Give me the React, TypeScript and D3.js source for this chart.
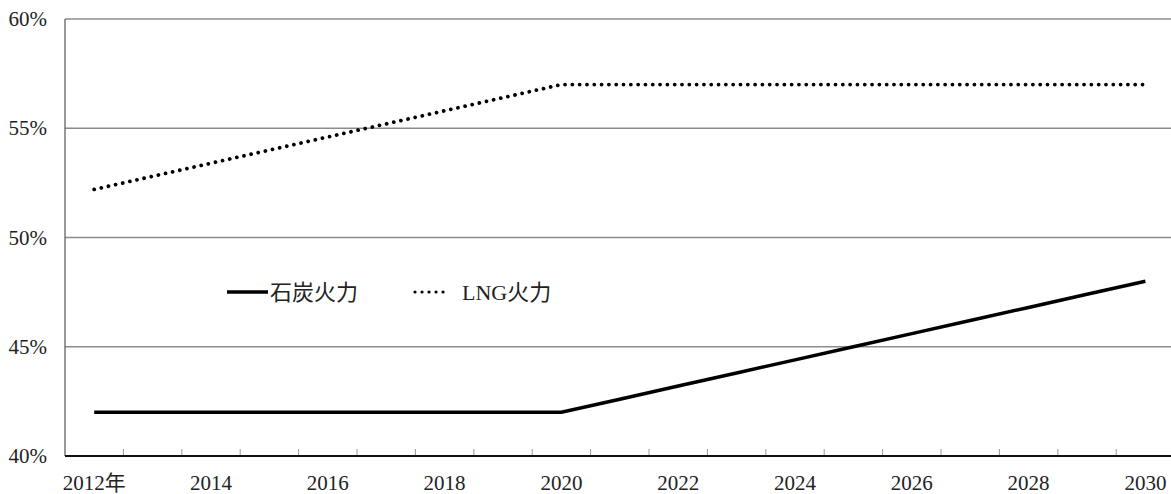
import React, { useEffect, useRef } from 'react';
import * as d3 from 'd3';

const years = [2012, 2013, 2014, 2015, 2016, 2017, 2018, 2019, 2020, 2021, 2022, 2023, 2024, 2025, 2026, 2027, 2028, 2029, 2030];
const coal = [42, 42, 42, 42, 42, 42, 42, 42, 42, 42.6, 43.2, 43.8, 44.4, 45, 45.6, 46.2, 46.8, 47.4, 48];
const lng = [52.2, 52.8, 53.4, 54, 54.6, 55.2, 55.8, 56.4, 57, 57, 57, 57, 57, 57, 57, 57, 57, 57, 57];
const yTicks = [40, 45, 50, 55, 60];
const seriesNames = ['石炭火力', 'LNG火力'];

const latin = '"Liberation Serif", "DejaVu Serif", serif';
const cjk = '"Liberation Serif", "Noto Sans CJK JP", serif';

const App = () => {
  const svgRef = useRef<SVGSVGElement>(null);

  useEffect(() => {
    const width = 1171;
    const height = 494;
    const left = 65;
    const top = 19;
    const bottom = 456;

    const svg = d3.select(svgRef.current);
    svg.selectAll('*').remove();
    svg.attr('width', width).attr('height', height);

    const x = d3.scaleBand<number>()
      .domain(years)
      .range([left, left + years.length * 58.4]);
    const cx = (yr: number) => (x(yr) as number) + x.bandwidth() / 2;

    const y = d3.scaleLinear().domain([40, 60]).range([bottom, top]);

    // gridlines
    svg.append('g')
      .selectAll('line')
      .data(yTicks.filter(t => t > 40))
      .enter()
      .append('line')
      .attr('x1', left)
      .attr('x2', width)
      .attr('y1', d => y(d))
      .attr('y2', d => y(d))
      .attr('stroke', '#8c8c8c')
      .attr('stroke-width', 1.5);

    // y labels
    svg.append('g')
      .selectAll('text')
      .data(yTicks)
      .enter()
      .append('text')
      .attr('x', 47)
      .attr('y', d => y(d) + 7)
      .attr('text-anchor', 'end')
      .style('font-family', latin)
      .style('font-size', '21px')
      .attr('fill', '#222')
      .text(d => `${d}%`);

    // left axis
    svg.append('line')
      .attr('x1', left).attr('x2', left)
      .attr('y1', top).attr('y2', bottom)
      .attr('stroke', '#555')
      .attr('stroke-width', 1.2);

    // x ticks (between categories)
    svg.append('g')
      .selectAll('line')
      .data(years.slice(1))
      .enter()
      .append('line')
      .attr('x1', d => x(d) as number)
      .attr('x2', d => x(d) as number)
      .attr('y1', bottom)
      .attr('y2', bottom - 7)
      .attr('stroke', '#999')
      .attr('stroke-width', 1);

    // bottom axis
    svg.append('line')
      .attr('x1', left).attr('x2', width)
      .attr('y1', bottom).attr('y2', bottom)
      .attr('stroke', '#111')
      .attr('stroke-width', 2);

    // x labels
    svg.append('g')
      .selectAll('text')
      .data(years.filter((d, i) => i % 2 === 0))
      .enter()
      .append('text')
      .attr('x', d => cx(d))
      .attr('y', 490)
      .attr('text-anchor', 'middle')
      .style('font-family', cjk)
      .style('font-size', '21px')
      .attr('fill', '#222')
      .text(d => (d === 2012 ? `${d}年` : `${d}`));

    const line = d3.line<number>()
      .x((d, i) => cx(years[i]))
      .y(d => y(d));

    svg.append('path')
      .datum(coal)
      .attr('d', line)
      .attr('fill', 'none')
      .attr('stroke', '#000')
      .attr('stroke-width', 3.5);

    svg.append('path')
      .datum(lng)
      .attr('d', line)
      .attr('fill', 'none')
      .attr('stroke', '#000')
      .attr('stroke-width', 3.8)
      .attr('stroke-linecap', 'round')
      .attr('stroke-dasharray', '0.01 7.3');

    // legend
    const lg = svg.append('g');
    lg.append('line')
      .attr('x1', 227).attr('x2', 268)
      .attr('y1', 292).attr('y2', 292)
      .attr('stroke', '#000')
      .attr('stroke-width', 3.5);
    lg.append('text')
      .attr('x', 270)
      .attr('y', 300)
      .style('font-family', cjk)
      .style('font-size', '22px')
      .attr('fill', '#222')
      .text(seriesNames[0]);
    lg.append('line')
      .attr('x1', 415).attr('x2', 450)
      .attr('y1', 292).attr('y2', 292)
      .attr('stroke', '#000')
      .attr('stroke-width', 3.2)
      .attr('stroke-linecap', 'round')
      .attr('stroke-dasharray', '0.01 7');
    lg.append('text')
      .attr('x', 462)
      .attr('y', 300)
      .style('font-family', cjk)
      .style('font-size', '22px')
      .attr('fill', '#222')
      .text(seriesNames[1]);
  }, []);

  return (
    <div style={{ position: 'absolute', left: 0, top: 0 }}>
      <svg ref={svgRef} style={{ display: 'block' }}></svg>
    </div>
  );
};

export default App;
